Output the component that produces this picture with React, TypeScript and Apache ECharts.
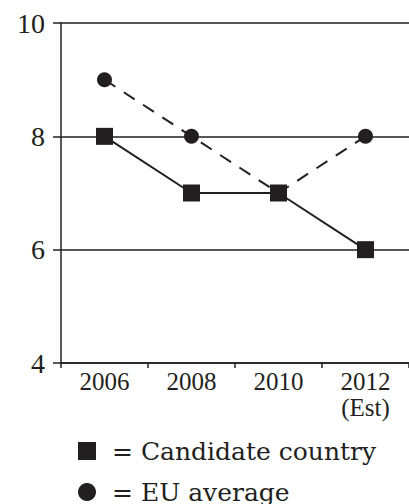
import React, { useEffect, useRef } from "react";
import * as echarts from "echarts";

const categories = ["2006", "2008", "2010", "2012\n(Est)"];
const candidateValues = [8, 7, 7, 6];
const euValues = [9, 8, 7, 8];
const yTicks = { min: 4, max: 10, interval: 2 };
const seriesNames = ["Candidate country", "EU average"];

const INK = "#231f20";

export default function App() {
  const ref = useRef<HTMLDivElement>(null);
  useEffect(() => {
    if (!ref.current) return;
    const chart = echarts.init(ref.current, undefined, { renderer: "svg" });
    chart.setOption({
      animation: false,
      backgroundColor: "#ffffff",
      grid: { left: 61, top: 23, right: -4, bottom: 141, containLabel: false },
      xAxis: {
        type: "category",
        data: categories,
        boundaryGap: true,
        axisLine: { show: true, lineStyle: { color: INK, width: 1.5 } },
        axisTick: { show: true, length: 5, lineStyle: { color: INK, width: 1.5 } },
        axisLabel: {
          color: INK,
          fontFamily: "Liberation Serif",
          fontSize: 25,
          lineHeight: 26,
          margin: 5,
        },
        splitLine: { show: false },
      },
      yAxis: {
        type: "value",
        min: yTicks.min,
        max: yTicks.max,
        interval: yTicks.interval,
        axisLine: { show: true, lineStyle: { color: INK, width: 1.5 } },
        axisTick: { show: true, length: 8, lineStyle: { color: INK, width: 1.5 } },
        axisLabel: {
          color: INK,
          fontFamily: "Liberation Serif",
          fontSize: 28,
          margin: 16,
        },
        splitLine: { show: true, lineStyle: { color: INK, width: 1.5 } },
      },
      legend: {
        orient: "vertical",
        left: 73,
        top: 432,
        height: 80,
        itemWidth: 18,
        itemHeight: 18,
        itemGap: 13,
        data: [
          { name: seriesNames[0], icon: "rect" },
          { name: seriesNames[1], icon: "circle" },
        ],
        formatter: "= {name}",
        textStyle: {
          color: INK,
          fontFamily: "DejaVu Serif",
          fontSize: 25,
          lineHeight: 28,
          padding: [0, 0, 0, 11],
        },
      },
      series: [
        {
          name: seriesNames[1],
          type: "line",
          data: euValues,
          symbol: "circle",
          symbolSize: 15,
          itemStyle: { color: INK },
          lineStyle: { color: INK, width: 2, type: [13, 10] },
          z: 2,
        },
        {
          name: seriesNames[0],
          type: "line",
          data: candidateValues,
          symbol: "rect",
          symbolSize: 17,
          itemStyle: { color: INK },
          lineStyle: { color: INK, width: 2, type: "solid" },
          z: 3,
        },
      ],
    });
    return () => chart.dispose();
  }, []);
  return (
    <div
      ref={ref}
      style={{ position: "absolute", left: 0, top: 0, width: 409, height: 504 }}
    />
  );
}
